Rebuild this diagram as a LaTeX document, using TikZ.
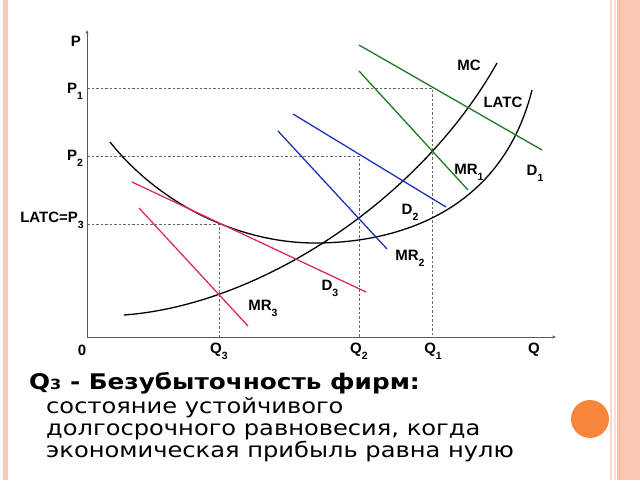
\documentclass[tikz,border=0pt]{standalone}
\usepackage{fontspec}
\setmainfont{Liberation Sans}
\newfontfamily\slidefont[FakeStretch=1.15]{DejaVu Sans}
\definecolor{EcGreen}{HTML}{1C7A22}
\definecolor{EcBlue}{HTML}{1C34B4}
\definecolor{EcRed}{HTML}{DC2A62}
\definecolor{EcSalmon}{HTML}{FBC8B6}
\definecolor{EcOrange}{HTML}{F7863A}
\usetikzlibrary{positioning,arrows.meta}
\newcommand\ix[1]{\raisebox{-0.4em}{\fontsize{10.5}{10.5}\selectfont #1}}

\begin{document}
\begin{tikzpicture}[x=1pt, y=-1pt,
    lbl/.style={font=\bfseries\fontsize{15}{15}\selectfont, inner sep=0pt},
    guide/.style={dash pattern=on 2.5pt off 2pt, gray!80!black, line width=0.6pt},
    curve/.style={line width=1.3pt}]
  \useasboundingbox (0,0) rectangle (640,480);
  % slide frame
  \fill[EcSalmon] (3,0) rectangle (8,480);
  \fill[EcSalmon!70] (610,0) rectangle (612,480);
  \fill[EcSalmon!60] (614,0) rectangle (616,480);
  \fill[EcSalmon] (617,0) rectangle (640,480);
  \fill[EcSalmon!80!orange] (618.5,0) rectangle (620,480);
  \fill[EcOrange] (590,419) circle (19);

  % axes
  \coordinate (O) at (87,337);
  \draw[gray!70!black, line width=0.8pt, -{Stealth[length=4pt]}] (O) -- (87,30);
  \draw[gray!70!black, line width=0.8pt, -{Stealth[length=4pt]}] (O) -- (556,337);

  % equilibrium points
  \coordinate (E1) at (432,88);
  \coordinate (E2) at (359,156);
  \coordinate (E3) at (219,224);
  \draw[guide] (87,88) -| (E1) -- (432,337);
  \draw[guide] (87,156) -| (E2) -- (359,337);
  \draw[guide] (87,224) -| (E3) -- (219,337);

  % cost curves
  \draw[curve] (110,142) .. controls (160,205) and (240,243) .. (315,243)
               .. controls (400,243) and (502,210) .. (532,90);
  \draw[curve] (124,315) .. controls (260,305) and (420,200) .. (497,63);

  % demand and marginal revenue
  \draw[curve, EcGreen] (359,45) -- (542,150);
  \draw[curve, EcGreen] (359,71) -- (468,190);
  \draw[curve, EcBlue] (293,114) -- (446,207);
  \draw[curve, EcBlue] (278,131) -- (387,249);
  \draw[curve, EcRed] (132,182) -- (366,292);
  \draw[curve, EcRed] (139,208) -- (248,326);

  % labels
  \node[lbl] (p) at (76,41) {P};
  \node[lbl] (p1) at (75,91) {P\ix{1}};
  \node[lbl] (p2) at (75,158) {P\ix{2}};
  \node[lbl, anchor=east] (p3) at (84,220) {LATC=P\ix{3}};
  \node[lbl] (zero) at (82,350) {0};
  \node[lbl] (q3) at (219,351) {Q\ix{3}};
  \node[lbl] (q2) at (359,351) {Q\ix{2}};
  \node[lbl] (q1) at (433,351) {Q\ix{1}};
  \node[lbl] (q) at (534,350) {Q};
  \node[lbl] (mc) at (469,65) {MC};
  \node[lbl] (latc) at (503,102) {LATC};
  \node[lbl] (mr1) at (469,172) {MR\ix{1}};
  \node[lbl] (d1) at (535,173) {D\ix{1}};
  \node[lbl] (d2) at (410,212) {D\ix{2}};
  \node[lbl] (mr2) at (410,258) {MR\ix{2}};
  \node[lbl] (d3) at (330,288) {D\ix{3}};
  \node[lbl] (mr3) at (263,308) {MR\ix{3}};

  % caption
  \node[anchor=base west, inner sep=0pt, font=\slidefont\bfseries\fontsize{21.5}{21.5}\selectfont] (title) at (29,389) {Q{\fontsize{14}{14}\selectfont 3} - Безубыточность фирм:};
  \node[anchor=base west, inner sep=0pt, align=left, font=\slidefont\fontsize{21}{22}\selectfont] (body) at (46,457) {состояние устойчивого\\долгосрочного равновесия, когда\\экономическая прибыль равна нулю};
\end{tikzpicture}
\end{document}
